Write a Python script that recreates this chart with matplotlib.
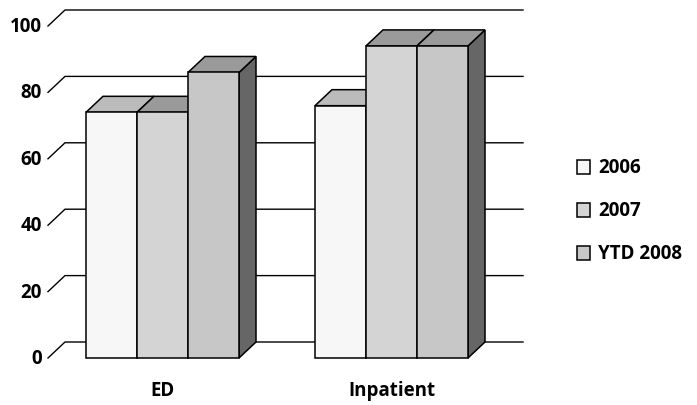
import matplotlib.pyplot as plt
from matplotlib.patches import Polygon, Rectangle

# chart data
categories = ['ED', 'Inpatient']
series = ['2006', '2007', 'YTD 2008']
values_2006 = [74, 76]
values_2007 = [74, 94]
values_ytd2008 = [86, 94]
yticks = [0, 20, 40, 60, 80, 100]

front_colors = ['#f7f7f7', '#d4d4d4', '#c7c7c7']
top_colors = ['#bbbbbb', '#9a9a9a', '#9a9a9a']
side_color = '#666666'

W, H = 697, 406
fig = plt.figure(figsize=(W / 100, H / 100), dpi=100)
plt.rcParams['font.family'] = ['Open Sans', 'DejaVu Sans']
FS = 13.5

# front plane of the 3d box
ax = fig.add_axes([48 / W, 1 - 359 / H, (506 - 48) / W, (359 - 27) / H])
ax.set_xlim(-0.5, 1.5)
ax.set_ylim(0, 100)
ax.axis('off')

dx = 17 / 229.0   # depth offset in x data units
dy = 4.82         # depth offset in value units
width = 51 / 229.0
x_left, x_right = -0.5, 1.5

# back wall gridlines with the diagonal on the left side
for v in yticks:
    ax.plot([x_left, x_left + dx, x_right + dx], [v, v + dy, v + dy],
            color='black', lw=1.0, clip_on=False, zorder=1)
    ax.text(x_left - 0.028, v, str(v), ha='right', va='center',
            fontsize=FS, fontweight='bold')

all_values = [values_2006, values_2007, values_ytd2008]
z = 2
for ci, cat in enumerate(categories):
    for si in range(len(series)):
        val = all_values[si][ci]
        x0 = ci + (si - 1) * width - width / 2
        x1 = x0 + width
        # side face
        side = Polygon([(x1, 0), (x1 + dx, dy), (x1 + dx, val + dy), (x1, val)],
                       closed=True, facecolor=side_color, edgecolor='black',
                       lw=1.1, clip_on=False, zorder=z)
        ax.add_patch(side)
        # top face
        top = Polygon([(x0, val), (x0 + dx, val + dy), (x1 + dx, val + dy), (x1, val)],
                      closed=True, facecolor=top_colors[si], edgecolor='black',
                      lw=1.1, clip_on=False, zorder=z)
        ax.add_patch(top)
        # front face
        ax.bar(x0, val, width=width, align='edge', color=front_colors[si],
               edgecolor='black', lw=1.1, clip_on=False, zorder=z + 1)
        z += 2
    ax.annotate(cat, xy=(ci, 0), xytext=(0, -23), textcoords='offset points',
                ha='center', va='center', fontsize=FS, fontweight='bold')

# legend
for i, lab in enumerate(series):
    yc = 168 + 43 * i
    fig.add_artist(Rectangle((577 / W, 1 - (yc + 7) / H), 13 / W, 14 / H,
                             transform=fig.transFigure, facecolor=front_colors[i],
                             edgecolor='black', lw=1.1))
    fig.text(598 / W, 1 - yc / H, lab, ha='left', va='center',
             fontsize=FS, fontweight='bold')

plt.savefig('out.png', dpi=100)
